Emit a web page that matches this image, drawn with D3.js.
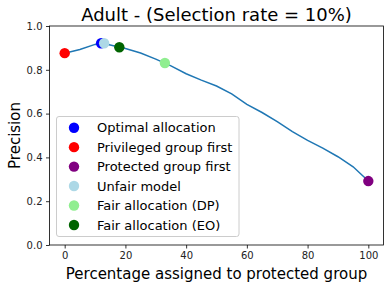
<!DOCTYPE html>
<html><head><meta charset="utf-8">
<script src="https://cdn.jsdelivr.net/npm/d3@7"></script>
<style>body{margin:0;background:#fff}svg{display:block;font-family:"DejaVu Sans",sans-serif}</style>
</head><body><svg id="c" width="391" height="287"></svg>
<script>
const curveX = [0,5,10,12,15,20,25,30,35,40,45,50,55,60,65,70,75,80,85,90,95,100];
const curveY = [0.876,0.893,0.916,0.921,0.913,0.897,0.877,0.849,0.818,0.782,0.753,0.726,0.690,0.642,0.605,0.563,0.518,0.478,0.442,0.403,0.357,0.292];
const pointNames = ["Optimal allocation","Privileged group first","Protected group first","Unfair model","Fair allocation (DP)","Fair allocation (EO)"];
const pointX = [12,0,100,13,33,18];
const pointY = [0.921,0.876,0.292,0.921,0.831,0.903];
const pointColors = ["blue","red","purple","lightblue","lightgreen","darkgreen"];
const xTicks = [0,20,40,60,80,100];
const yTicks = [0.0,0.2,0.4,0.6,0.8,1.0];
const title = "Adult - (Selection rate = 10%)";
const xLabel = "Percentage assigned to protected group";
const yLabel = "Precision";

const svg = d3.select("#c");
const L=49.5,R=383.5,T=26,B=245;
const x = d3.scaleLinear().domain([-5,105]).range([L,R]);
const y = d3.scaleLinear().domain([0,1]).range([B,T]);

const xa = svg.append("g").attr("transform",`translate(0,${B})`)
  .call(d3.axisBottom(x).tickValues(xTicks).tickSize(3.5).tickPadding(3.5).tickFormat(d3.format("d")));
const ya = svg.append("g").attr("transform",`translate(${L},0)`)
  .call(d3.axisLeft(y).tickValues(yTicks).tickSize(3.5).tickPadding(3.5).tickFormat(d3.format(".1f")));
[xa,ya].forEach(a=>{a.select(".domain").remove();a.selectAll("line").attr("stroke","#000").attr("stroke-width",0.8);
  a.selectAll("text").attr("font-size",10).attr("fill","#222").attr("font-family","DejaVu Sans");});
svg.append("rect").attr("x",L).attr("y",T).attr("width",R-L).attr("height",B-T)
  .attr("fill","none").attr("stroke","#000").attr("stroke-width",0.8);

svg.append("path").datum(curveX.map((d,i)=>[d,curveY[i]]))
  .attr("d",d3.line().x(d=>x(d[0])).y(d=>y(d[1])))
  .attr("fill","none").attr("stroke","#1f77b4").attr("stroke-width",1.5);

svg.selectAll("circle.pt").data(pointX).enter().append("circle").attr("class","pt")
  .attr("cx",d=>x(d)).attr("cy",(d,i)=>y(pointY[i])).attr("r",5.2)
  .attr("fill",(d,i)=>pointColors[i]);

svg.append("text").attr("x",(L+R)/2).attr("y",21).attr("text-anchor","middle")
  .attr("font-size",18).attr("fill","#000").text(title);
svg.append("text").attr("x",(L+R)/2).attr("y",279).attr("text-anchor","middle")
  .attr("font-size",15).attr("fill","#000").text(xLabel);
svg.append("text").attr("transform",`translate(20,${(T+B)/2}) rotate(-90)`).attr("text-anchor","middle")
  .attr("font-size",15).attr("fill","#000").text(yLabel);

const lg = svg.append("g");
lg.append("rect").attr("x",56.5).attr("y",116.5).attr("width",182.5).attr("height",120).attr("rx",2.5)
  .attr("fill","#fff").attr("fill-opacity",0.8).attr("stroke","#ccc").attr("stroke-width",1);
pointNames.forEach((n,i)=>{
  const cy = 127.7 + i*19.45;
  lg.append("circle").attr("cx",74).attr("cy",cy).attr("r",5.2).attr("fill",pointColors[i]);
  lg.append("text").attr("x",97).attr("y",cy).attr("dy","0.36em").attr("font-size",13).attr("fill","#000").text(n);
});
</script></body></html>
